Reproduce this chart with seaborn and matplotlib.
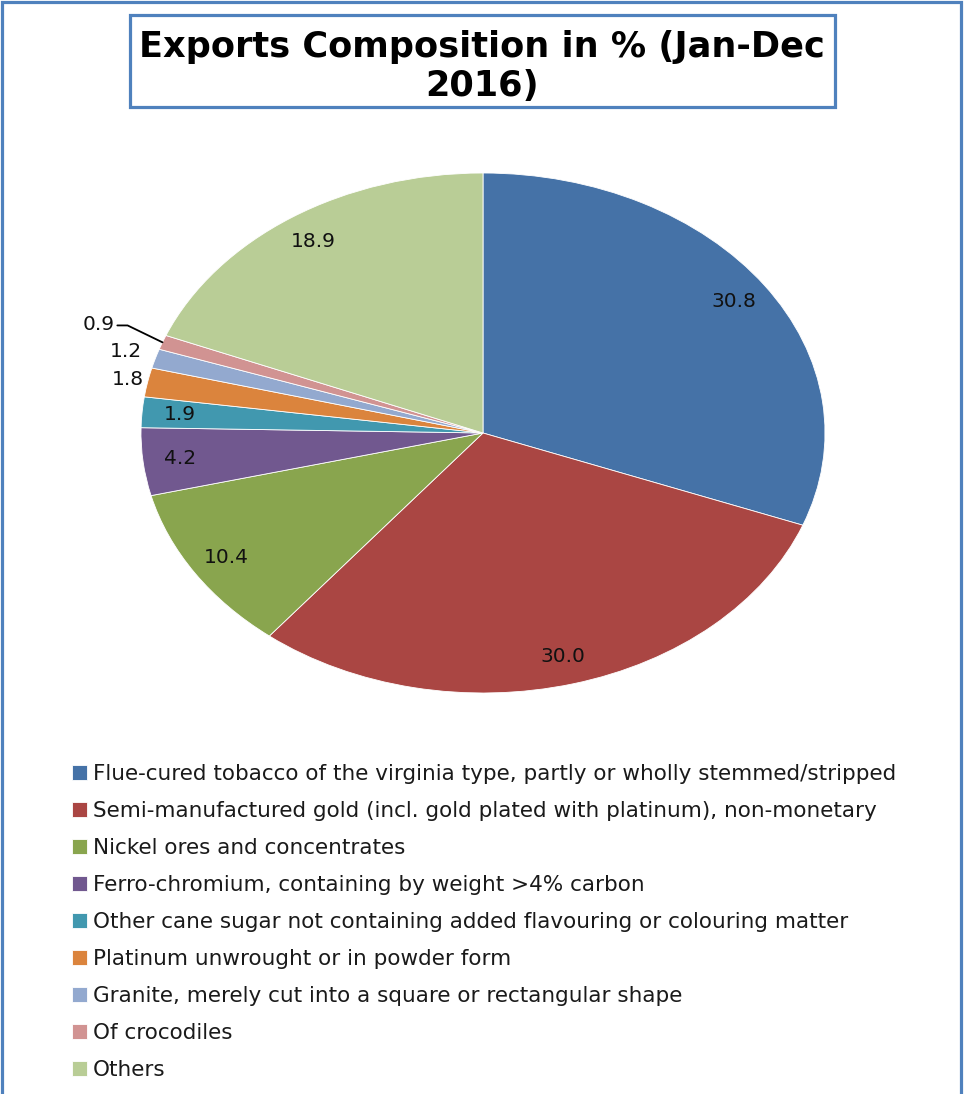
import numpy as np
import pandas as pd
import matplotlib
matplotlib.use("Agg")
import matplotlib.pyplot as plt
import seaborn as sns
from matplotlib.patches import Rectangle
from matplotlib.lines import Line2D

categories = [
    "Flue-cured tobacco of the virginia type, partly or wholly stemmed/stripped",
    "Semi-manufactured gold (incl. gold plated with platinum), non-monetary",
    "Nickel ores and concentrates",
    "Ferro-chromium, containing by weight >4% carbon",
    "Other cane sugar not containing added flavouring or colouring matter",
    "Platinum unwrought or in powder form",
    "Granite, merely cut into a square or rectangular shape",
    "Of crocodiles",
    "Others",
]
values = [30.8, 30.0, 10.4, 4.2, 1.9, 1.8, 1.2, 0.9, 18.9]
value_labels = ["30.8", "30.0", "10.4", "4.2", "1.9", "1.8", "1.2", "0.9", "18.9"]
colors = ["#4572A7", "#AA4643", "#89A54E", "#71588F", "#4198AF",
          "#DB843D", "#93A9CF", "#D19392", "#B9CD96"]
title = "Exports Composition in % (Jan-Dec\n2016)"

sns.set_theme(style="white")
plt.rcParams['font.family'] = ['DejaVu Sans']

W, H = 964, 1094
fig = plt.figure(figsize=(W / 100, H / 100), dpi=100)
fig.patch.set_facecolor("white")

# outer border
blue = "#4F81BD"
fig.patches.append(Rectangle((1.5 / W, -0.01), (W - 4.5) / W, 1 - 1.5 / H + 0.01,
                             transform=fig.transFigure, fill=False,
                             edgecolor=blue, linewidth=2.3, figure=fig))
# title box
fig.patches.append(Rectangle((129.5 / W, 1 - 106.5 / H), (834.5 - 129.5) / W, (106.5 - 15.5) / H,
                             transform=fig.transFigure, fill=False,
                             edgecolor=blue, linewidth=2.3, figure=fig))
fig.text(482 / W, 1 - 66.5 / H, title, ha="center", va="center",
         fontsize=25.3, fontweight="bold", linespacing=1.15, color="black")

cx, cy, rx, ry = 483, 433, 342, 260
ax = fig.add_axes([(cx - rx) / W, (H - cy - ry) / H, 2 * rx / W, 2 * ry / H])
palette = sns.color_palette(colors)
wedges, _ = ax.pie(values, colors=palette, startangle=90, counterclock=False,
                   wedgeprops=dict(edgecolor="white", linewidth=0.6))
ax.set_aspect("auto")
ax.set_xlim(-1, 1)
ax.set_ylim(-1, 1)
ax.axis("off")

outside = {5: 1.06, 6: 1.09, 7: 1.2}
for i, (w, lab) in enumerate(zip(wedges, value_labels)):
    mid = np.deg2rad((w.theta1 + w.theta2) / 2)
    d = outside.get(i, 0.89)
    ax.text(d * np.cos(mid), d * np.sin(mid), lab, ha="center", va="center",
            fontsize=14.5, color="#111111", clip_on=False)
    if i == 7:
        ex, ey = np.cos(mid), np.sin(mid)
        kx, ky = ex - 0.102, ey + 0.065
        ax.add_line(Line2D([ex, kx, kx - 0.03], [ey, ky, ky], color="black",
                           linewidth=1.3, clip_on=False))

leg = ax.legend(wedges, categories, loc="upper left",
                bbox_to_anchor=(72 / W, 1 - 764 / H), bbox_transform=fig.transFigure,
                frameon=False, fontsize=15.5, handlelength=0.7, handleheight=0.7,
                handletextpad=0.27, labelspacing=0.79, borderpad=0, borderaxespad=0)
for t in leg.get_texts():
    t.set_color("#1a1a1a")

fig.savefig("out.png", dpi=100)
